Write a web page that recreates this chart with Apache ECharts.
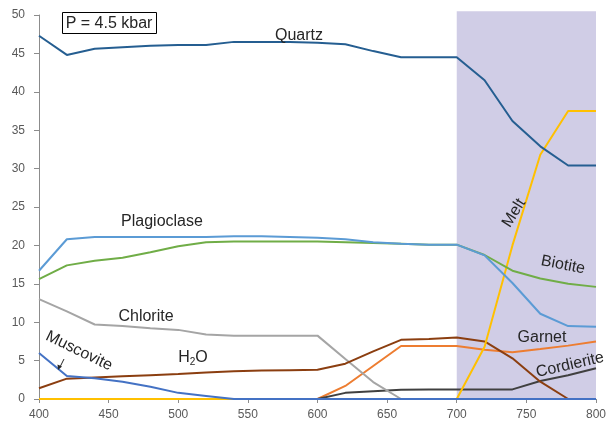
<!DOCTYPE html>
<html>
<head>
<meta charset="utf-8">
<script src="https://cdn.jsdelivr.net/npm/echarts@6/dist/echarts.min.js"></script>
<style>
  html, body { margin: 0; padding: 0; background: #fff; }
  #chart { width: 609px; height: 425px; }
</style>
</head>
<body>
<div id="chart"></div>
<script>
// Temperature steps (°C)
const temps = [400, 420, 440, 460, 480, 500, 520, 540, 560, 580, 600,
               620, 640, 660, 680, 700, 720, 740, 760, 780, 800];

// Phase proportions along the heating path
const quartz      = [47.3, 44.8, 45.6, 45.8, 46.0, 46.1, 46.1, 46.5, 46.5, 46.5, 46.4,
                     46.2, 45.3, 44.5, 44.5, 44.5, 41.5, 36.2, 32.9, 30.4, 30.4];
const plagioclase = [16.7, 20.8, 21.1, 21.1, 21.1, 21.1, 21.1, 21.2, 21.2, 21.1, 21.0,
                     20.8, 20.4, 20.2, 20.1, 20.1, 18.7, 15.1, 11.1, 9.5, 9.4];
const biotite     = [15.6, 17.4, 18.0, 18.4, 19.1, 19.9, 20.4, 20.5, 20.5, 20.5, 20.5,
                     20.4, 20.3, 20.2, 20.1, 20.1, 18.75, 16.7, 15.7, 15.0, 14.6];
const chlorite    = [13.0, 11.4, 9.7, 9.5, 9.2, 9.0, 8.4, 8.25, 8.25, 8.25, 8.25,
                     5.2, 2.2, 0, 0, 0, 0, 0, 0, 0, 0];
const muscovite   = [6.0, 3.0, 2.7, 2.25, 1.6, 0.8, 0.4, 0, 0, 0, 0,
                     0, 0, 0, 0, 0, 0, 0, 0, 0, 0];
const h2o         = [1.4, 2.65, 2.8, 2.95, 3.1, 3.25, 3.45, 3.6, 3.7, 3.75, 3.8,
                     4.6, 6.2, 7.7, 7.8, 8.0, 7.5, 5.3, 2.25, 0, 0];
const garnet      = [0, 0, 0, 0, 0, 0, 0, 0, 0, 0, 0,
                     1.7, 4.3, 6.9, 6.9, 6.9, 6.4, 6.1, 6.5, 6.95, 7.5];
const cordierite  = [0, 0, 0, 0, 0, 0, 0, 0, 0, 0, 0,
                     0.8, 1.0, 1.2, 1.25, 1.25, 1.25, 1.25, 2.35, 3.1, 4.0];
const melt        = [0, 0, 0, 0, 0, 0, 0, 0, 0, 0, 0,
                     0, 0, 0, 0, 0, 6.8, 20.0, 31.8, 37.5, 37.5];

// Supersolidus field: temperature range and its top (slightly above the axis max)
const meltField = [700, 800];
const meltFieldTop = 50.5;

const pairs = arr => temps.map((t, i) => [t, arr[i]]);

function line(name, arr, color) {
  return {
    name: name,
    type: 'line',
    data: pairs(arr),
    symbol: 'none',
    smooth: false,
    lineStyle: { color: color, width: 2 },
    itemStyle: { color: color },
    z: 3
  };
}

const textColor = '#262626';
const font = 'Liberation Sans, Arial, sans-serif';

function label(text, x, y, deg) {
  return {
    type: 'text',
    x: x, y: y,
    rotation: (deg || 0) * Math.PI / 180,
    z: 10,
    style: {
      text: text,
      fill: textColor,
      font: '16px ' + font,
      align: 'center',
      verticalAlign: 'middle'
    }
  };
}

const chart = echarts.init(document.getElementById('chart'), null, { renderer: 'canvas' });

const labels = [
  {
    type: 'rect', z: 10,
    shape: { x: 62.5, y: 12.5, width: 94, height: 21 },
    style: { fill: '#ffffff', stroke: '#000000', lineWidth: 1 }
  },
  label('P = 4.5 kbar', 109, 23.5, 0),
  label('Quartz', 299, 36, 0),
  label('Plagioclase', 162, 222, 0),
  label('Chlorite', 146, 317, 0),
  label('Muscovite', 79, 351, -26),
  {
    type: 'text', x: 193, y: 358, z: 10,
    style: {
      text: 'H{sub|2}O',
      fill: textColor,
      font: '16px ' + font,
      align: 'center',
      verticalAlign: 'middle',
      rich: { sub: { fontSize: 10, fontFamily: font, fill: textColor, padding: [9, 0, 0, 0] } }
    }
  },
  label('Melt', 514, 213, 58),
  label('Biotite', 563, 265, -11),
  label('Garnet', 542, 338, 0),
  label('Cordierite', 570, 365, 13),
  {
    type: 'line', z: 10,
    shape: { x1: 64, y1: 359, x2: 60, y2: 367 },
    style: { stroke: '#262626', lineWidth: 1 }
  },
  {
    type: 'polygon', z: 10,
    shape: { points: [[58, 370], [57.5, 364.5], [62, 366.5]] },
    style: { fill: '#262626' }
  }
];

chart.setOption({
  animation: false,
  backgroundColor: '#ffffff',
  grid: { left: 39, right: 10, top: 15, bottom: 26, containLabel: false },
  xAxis: {
    type: 'value',
    min: 400, max: 800, interval: 50,
    axisLine: { show: true, onZero: false, lineStyle: { color: '#8c8c8c', width: 1 } },
    axisTick: { show: true, length: 4, lineStyle: { color: '#8c8c8c' } },
    axisLabel: { color: '#595959', fontSize: 12, fontFamily: font, margin: 10 },
    splitLine: { show: false }
  },
  yAxis: {
    type: 'value',
    min: 0, max: 50, interval: 5,
    axisLine: { show: true, lineStyle: { color: '#8c8c8c', width: 1 } },
    axisTick: { show: true, length: 5, lineStyle: { color: '#8c8c8c' } },
    axisLabel: { color: '#595959', fontSize: 12, fontFamily: font, margin: 14 },
    splitLine: { show: false }
  },
  series: [
    line('Garnet', garnet, '#ed7d31'),
    line('Cordierite', cordierite, '#404040'),
    line('Chlorite', chlorite, '#a5a5a5'),
    line('H2O', h2o, '#8b3e10'),
    line('Melt', melt, '#ffc000'),
    line('Muscovite', muscovite, '#4472c4'),
    line('Biotite', biotite, '#70ad47'),
    line('Plagioclase', plagioclase, '#5b9bd5'),
    line('Quartz', quartz, '#255e91')
  ],
  graphic: labels
});

// Shaded melt field, placed through the axis scales so it sits behind the curves
const p0 = chart.convertToPixel({ gridIndex: 0 }, [meltField[0], meltFieldTop]);
const p1 = chart.convertToPixel({ gridIndex: 0 }, [meltField[1], 0]);
chart.setOption({
  graphic: labels.concat([{
    type: 'rect',
    z: 0,
    zlevel: 0,
    silent: true,
    shape: { x: p0[0], y: p0[1], width: p1[0] - p0[0], height: p1[1] - p0[1] },
    style: { fill: '#d0cde6' }
  }])
}, { replaceMerge: ['graphic'] });
</script>
</body>
</html>
